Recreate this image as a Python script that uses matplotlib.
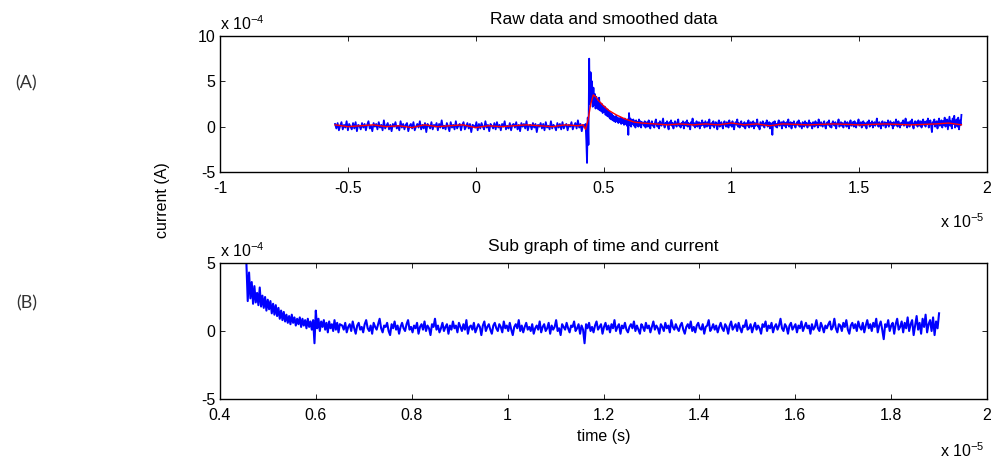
import numpy as np
import matplotlib
matplotlib.use("Agg")
import matplotlib.pyplot as plt

plt.rcParams['font.family'] = ['Liberation Sans', 'DejaVu Sans']
plt.rcParams['mathtext.fontset'] = 'custom'
plt.rcParams['mathtext.rm'] = 'Liberation Sans'
plt.rcParams['mathtext.it'] = 'Liberation Sans:italic'

# raw current, in units of 1e-4 A
# before the pulse (-0.55 .. 0.425 x1e-5 s)
raw_pre_t = (-0.55, 0.425)
raw_pre = [
    0.3, -0.2, 0.4, -0.4, 0.1, 0.5, -0.3, 0.2, -0.1, 0.6, -0.4, 0.3, 0.0, -0.3, 0.4, -0.2, 0.5, -0.5, 0.2, 0.1,
    -0.3, 0.4, -0.1, 0.3, -0.4, 0.2, 0.6, -0.2, 0.1, -0.5, 0.4, 0.0, 0.3, -0.3, 0.5, -0.1, 0.2, -0.4, 0.7, -0.2,
    0.1, 0.4, -0.3, 0.2, -0.5, 0.3, 0.0, 0.5, -0.2, 0.1, -0.4, 0.6, -0.1, 0.3, -0.3, 0.2, 0.4, -0.5, 0.1, 0.3,
    -0.2, 0.5, -0.4, 0.0, 0.3, -0.1, 0.6, -0.3, 0.2, -0.2, 0.4, -0.6, 0.3, 0.1, -0.2, 0.5, -0.3, 0.2, 0.0, 0.4,
    -0.4, 0.3, -0.1, 0.7, -0.2, 0.1, -0.3, 0.4, 0.0, -0.5, 0.5, -0.1, 0.2, -0.3, 0.6, -0.2, 0.1, 0.3, -0.4, 0.2,
    0.5, -0.3, 0.0, 0.4, -0.2, 0.3, -0.6, 0.2, 0.1, -0.1, 0.5, -0.4, 0.3, -0.2, 0.4, 0.0, -0.3, 0.6, -0.1, 0.2,
    -0.5, 0.3, 0.1, -0.2, 0.4, -0.3, 0.5, -0.1, 0.2, -0.4, 0.3, 0.0, 0.6, -0.3, 0.1, -0.2, 0.4, -0.4, 0.2, 0.3,
    -0.1, 0.5, -0.3, 0.2, -0.5, 0.4, 0.0, 0.3, -0.2, 0.6, -0.4, 0.1, 0.2, -0.3, 0.4, -0.1, 0.3, -0.6, 0.2, 0.0,
    0.4, -0.2, 0.3, -0.4, 0.5, -0.1, 0.1, -0.3, 0.6, -0.2, 0.2, 0.0, -0.4, 0.4, -0.1, 0.3, -0.3, 0.5, -0.2, 0.1,
    0.3, -0.4, 0.2, 0.0, 0.5, -0.3, 0.1, 0.4, -0.2, 0.7, -0.1, 0.3, -0.5, 0.2, 0.0,
]
# the pulse and its decay (0.43 .. 0.65 x1e-5 s)
raw_pulse_t = (0.43, 0.65)
raw_pulse = [
    0.3, -1.5, -4.0, 1.0, -2.0, 7.5, 2.5, 6.0, 3.0, 5.0,
    2.2, 4.3, 2.4, 3.6, 2.0, 3.3, 2.1, 2.8, 1.9, 3.2,
    1.8, 2.6, 1.7, 2.5, 1.5, 2.3, 1.6, 2.2, 1.3, 2.0,
    1.2, 1.9, 1.1, 1.7, 0.9, 1.5, 0.8, 1.4, 0.7, 1.2,
    0.6, 1.1, 0.5, 1.2, 0.6, 1.0, 0.4, 0.9, 0.5, 1.0,
    0.3, 0.9, 0.4, 0.8, 0.2, 0.9, 0.3, 0.7, 0.1, 0.8,
    -0.9, 1.5, 0.2, 0.9, 0.0, 0.7, 0.3, 0.8, 0.1, 0.6,
    -0.1, 0.7, 0.2, 0.5, 0.0, 0.8, 0.1, 0.6, -0.1, 0.5,
]
# after the pulse (0.655 .. 1.90 x1e-5 s)
raw_post_t = (0.655, 1.90)
raw_post = [
    0.4, 0.1, 0.6, -0.1, 0.3, 0.5, 0.0, 0.7, 0.2, -0.2, 0.4, 0.6, 0.1, 0.3, -0.1, 0.5, 0.8, 0.2, 0.0, 0.4, -0.2, 0.6, 0.3, 0.1, 0.5,
    0.9, 0.2, -0.1, 0.4, 0.3, 0.6, 0.0, -0.3, 0.5, 0.2, 0.7, 0.1, 0.4, -0.2, 0.3, 0.6, 0.2, 0.0, 0.5, 0.8, 0.1, 0.3, -0.1, 0.4, 0.2,
    0.6, -0.2, 0.3, 0.5, 0.1, 0.7, 0.0, 0.4, 0.2, -0.3, 0.5, 0.3, 0.9, 0.1, 0.4, -0.1, 0.2, 0.6, 0.0, 0.3, 0.5, -0.2, 0.4, 0.1, 0.7,
    0.2, 0.4, -0.1, 0.6, 0.3, 0.0, 0.5, 0.1, 0.8, -0.2, 0.3, 0.4, 0.1, 0.6, -0.1, 0.2, 0.5, 0.3, -0.3, 0.4, 0.7, 0.0, 0.3, 0.5, 0.1,
    -0.2, 0.4, 0.6, 0.2, 0.0, 0.5, 0.3, -0.1, 0.7, 0.2, 0.4, 0.0, 0.6, 0.1, -0.3, 0.3, 0.5, 0.2, 0.8, 0.0, 0.4, -0.1, 0.3, 0.6, 0.1,
    0.3, 0.0, 0.5, -0.2, 0.2, 0.4, 0.1, 0.7, -0.1, 0.3, 0.5, 0.0, 0.2, 0.6, -0.2, 0.4, 0.1, 0.3, 0.8, 0.0, 0.2, -0.3, 0.5, 0.3, 0.1,
    0.6, 0.2, -0.1, 0.4, 0.3, 0.7, 0.0, 0.2, 0.5, -0.2, 0.4, 0.1, -0.9, 0.5, 0.2, 0.6, 0.0, 0.3, -0.1, 0.4, 0.7, 0.1, 0.3, 0.5, -0.2,
    0.3, 0.6, 0.1, 0.4, -0.1, 0.5, 0.2, 0.8, 0.0, 0.3, 0.5, -0.2, 0.4, 0.2, 0.6, 0.1, -0.1, 0.3, 0.5, 0.2, 0.7, 0.0, 0.4, 0.1, -0.2,
    0.5, 0.3, 0.0, 0.6, 0.2, 0.4, -0.1, 0.3, 0.7, 0.1, 0.4, 0.2, -0.2, 0.5, 0.3, 0.0, 0.6, 0.2, 0.4, -0.1, 0.8, 0.3, 0.1, 0.5, 0.2,
    0.0, 0.4, 0.6, 0.1, -0.2, 0.3, 0.5, 0.2, 0.7, 0.0, 0.3, -0.1, 0.4, 0.6, 0.2, 0.1, 0.5, -0.2, 0.3, 0.4, 0.8, 0.0, 0.2, 0.5, 0.1,
    0.4, -0.1, 0.3, 0.6, 0.2, 0.0, 0.5, 0.3, -0.2, 0.4, 0.7, 0.1, 0.3, 0.5, 0.0, 0.6, 0.2, -0.1, 0.4, 0.3, 0.8, 0.1, 0.2, 0.5, -0.1,
    0.3, 0.6, 0.1, 0.4, 0.2, -0.2, 0.5, 0.3, 0.7, 0.0, 0.4, 0.2, 0.6, -0.1, 0.3, 0.5, 0.1, 0.4, 0.9, 0.2, 0.0, 0.5, 0.3, -0.2, 0.4,
    0.6, 0.1, 0.3, 0.5, -0.1, 0.4, 0.2, 0.7, 0.0, 0.3, 0.6, 0.2, 0.4, -0.2, 0.5, 0.1, 0.3, 0.8, 0.2, 0.0, 0.6, 0.3, -0.1, 0.4, 0.2,
    0.5, 0.7, 0.1, 0.3, 0.9, 0.2, -0.1, 0.5, 0.4, 0.0, 0.6, 0.3, 0.8, 0.1, -0.2, 0.4, 0.6, 0.2, 0.5, 0.0, 0.7, 0.3, 0.1, 0.6, -0.1,
    0.4, 0.8, 0.2, 0.5, 0.0, 0.6, 0.3, 0.9, -0.1, 0.4, 0.7, 0.1, -0.6, 0.5, 0.3, 0.8, 0.0, 0.4, 0.6, -0.2, 0.5, 0.9, 0.1, 0.3, 0.7,
    -0.1, 0.6, 0.2, 1.0, 0.0, 0.5, 0.8, -0.3, 0.4, 1.1, 0.1, 0.6, -0.2, 0.9, 0.3, 1.2, -0.1, 0.5, 0.8, 0.0, 1.0, -0.3, 0.7, 0.2, 1.3,
]

# smoothed current (red), x1e-5 s and x1e-4 A
smooth_t = [-0.55, -0.50, -0.45, -0.40, -0.35, -0.30, -0.25, -0.20, -0.15, -0.10, -0.05, 0.0, 0.05, 0.10,
            0.15, 0.20, 0.25, 0.30, 0.35, 0.40, 0.42, 0.43, 0.44, 0.45, 0.46, 0.47, 0.48, 0.50, 0.52, 0.55,
            0.58, 0.60, 0.62, 0.65, 0.70, 0.75, 0.80, 0.85, 0.90, 0.95, 1.0, 1.05, 1.1, 1.15, 1.2, 1.3,
            1.4, 1.5, 1.6, 1.7, 1.8, 1.85, 1.9]
smooth_v = [0.2, 0.0, 0.1, 0.2, 0.0, 0.1, -0.1, 0.2, 0.0, 0.1, 0.2, -0.1, 0.1, 0.0,
            0.1, 0.2, 0.1, 0.0, 0.2, 0.1, 0.2, -0.3, 0.8, 2.5, 3.5, 3.3, 2.9, 2.3, 1.8, 1.3,
            0.9, 0.7, 0.5, 0.4, 0.3, 0.2, 0.3, 0.2, 0.3, 0.2, 0.4, 0.2, 0.3, 0.1, 0.3, 0.2,
            0.3, 0.2, 0.3, 0.2, 0.3, 0.4, 0.2]

# sub graph starts right after the peak
sub_start = 0.455

t = np.concatenate([np.linspace(*raw_pre_t, len(raw_pre)),
                    np.linspace(*raw_pulse_t, len(raw_pulse)),
                    np.linspace(*raw_post_t, len(raw_post))])
current = np.array(raw_pre + raw_pulse + raw_post)
sub = t >= sub_start

W, H = 991, 459
fig = plt.figure(figsize=(W / 100, H / 100), dpi=100)

def px(x, y):
    return x / W, 1 - y / H

ax1 = fig.add_axes([220 / W, 1 - 172 / H, 767 / W, 136 / H])
ax2 = fig.add_axes([220 / W, 1 - 399 / H, 767 / W, 136 / H])

ax1.plot(t, current, color='#0000ff', linewidth=1.3)
ax1.plot(smooth_t, smooth_v, color='#ff0000', linewidth=1.0)
ax1.set_xlim(-1, 2)
ax1.set_ylim(-5, 10)
ax1.set_xticks([-1, -0.5, 0, 0.5, 1, 1.5, 2])
ax1.set_xticklabels(['-1', '-0.5', '0', '0.5', '1', '1.5', '2'])
ax1.set_yticks([-5, 0, 5, 10])
ax1.set_yticklabels(['-5', '0', '5', '10'])
ax1.set_title('Raw data and smoothed data', fontsize=12.5, pad=9)

ax2.plot(t[sub], current[sub], color='#0000ff', linewidth=1.5)
ax2.set_xlim(0.4, 2)
ax2.set_ylim(-5, 5)
ax2.set_xticks([0.4, 0.6, 0.8, 1, 1.2, 1.4, 1.6, 1.8, 2])
ax2.set_xticklabels(['0.4', '0.6', '0.8', '1', '1.2', '1.4', '1.6', '1.8', '2'])
ax2.set_yticks([-5, 0, 5])
ax2.set_yticklabels(['-5', '0', '5'])
ax2.set_title('Sub graph of time and current', fontsize=12.5, pad=9)
ax2.set_xlabel('time (s)', fontsize=11.5, labelpad=4)

for ax in (ax1, ax2):
    ax.tick_params(direction='in', top=True, right=True, length=3.5, width=0.6,
                   labelsize=11.5)
    ax.tick_params(axis='x', pad=6.5)
    ax.tick_params(axis='y', pad=3.5)
    for s in ax.spines.values():
        s.set_linewidth(1.0)

# MATLAB style exponent labels
fig.text(*px(220, 30), r'x 10$^{\mathrm{-4}}$', fontsize=11.5, ha='left', va='baseline')
fig.text(*px(220, 257), r'x 10$^{\mathrm{-4}}$', fontsize=11.5, ha='left', va='baseline')
fig.text(*px(985, 228), r'x 10$^{\mathrm{-5}}$', fontsize=11.5, ha='right', va='baseline')
fig.text(*px(985, 457), r'x 10$^{\mathrm{-5}}$', fontsize=11.5, ha='right', va='baseline')

fig.text(*px(163, 200), 'current (A)', fontsize=11.5, rotation=90, ha='center', va='center')

fig.text(*px(26, 83), '(A)', fontsize=13, ha='center', va='center', family=['Lato', 'DejaVu Sans'], color='#333333')
fig.text(*px(27, 303), '(B)', fontsize=13, ha='center', va='center', family=['Lato', 'DejaVu Sans'], color='#333333')

fig.savefig('out.png', dpi=100)
